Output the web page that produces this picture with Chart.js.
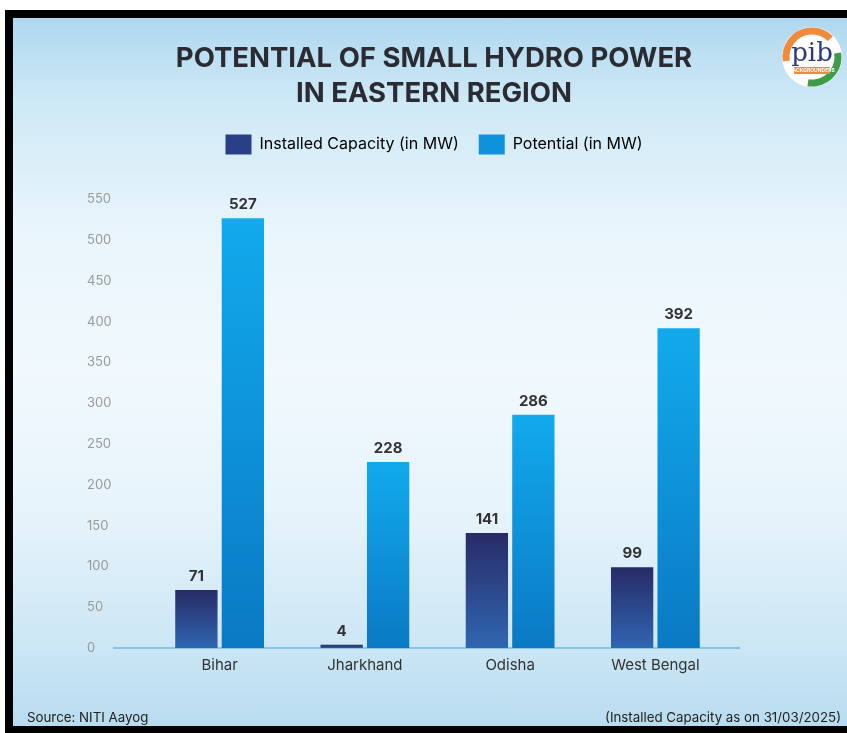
<!DOCTYPE html>
<html>
<head>
<meta charset="utf-8">
<title>Potential of Small Hydro Power in Eastern Region</title>
<script src="https://cdn.jsdelivr.net/npm/chart.js@4.4.1/dist/chart.umd.min.js"></script>
<style>
  html, body { margin: 0; padding: 0; background: #fff; width: 847px; height: 733px; overflow: hidden; }
  #frame { position: absolute; left: 5px; top: 10px; width: 860px; height: 723px; background: #000; }
  #panel {
    position: absolute; left: 8px; top: 8px; width: 834px; height: 708px; overflow: hidden;
    background: linear-gradient(180deg, #afd8ef 0%, #cfe9f6 12%, #e9f5fc 30%, #f1f9fd 50%, #e6f3fb 70%, #cde7f5 88%, #b8dcef 100%);
  }
  #wrap { position: absolute; left: 0; top: 0; width: 834px; height: 708px; }
  .foot { position: absolute; top: 691px; font: 13.3px Inter, sans-serif; color: #222; white-space: nowrap; }
</style>
</head>
<body>
<div id="frame">
  <div id="panel">
    <div id="wrap"><canvas id="hydroChart"></canvas></div>
    <div class="foot" style="left:14px">Source: NITI Aayog</div>
    <div class="foot" style="right:6px">(Installed Capacity as on 31/03/2025)</div>
  </div>
</div>
<script>
const categories = ['Bihar', 'Jharkhand', 'Odisha', 'West Bengal'];
const installedCapacity = [71, 4, 141, 99];
const potential = [527, 228, 286, 392];
const yMax = 550;
const yStep = 50;

const FONT = 'Inter, "Open Sans", sans-serif';

// vertical gradient running from each bar's top down to the axis
function barGradient(topColor, bottomColor) {
    return (context) => {
        const chart = context.chart;
        if (!chart.chartArea || context.type !== 'data') return bottomColor;
        const y = chart.scales.y;
        const top = y.getPixelForValue(context.raw);
        const bottom = y.getPixelForValue(0);
        const g = chart.ctx.createLinearGradient(0, top, 0, bottom + 1);
        g.addColorStop(0, topColor);
        g.addColorStop(1, bottomColor);
        return g;
    };
}

const valueLabels = {
    id: 'valueLabels',
    afterDatasetsDraw(chart) {
        const ctx = chart.ctx;
        ctx.save();
        ctx.font = 'bold 15px ' + FONT;
        ctx.fillStyle = '#333333';
        ctx.textAlign = 'center';
        ctx.textBaseline = 'bottom';
        chart.data.datasets.forEach((ds, i) => {
            chart.getDatasetMeta(i).data.forEach((bar, j) => {
                ctx.fillText(ds.data[j], bar.x, bar.y - 6);
            });
        });
        ctx.restore();
    }
};

const baseLine = {
    id: 'baseLine',
    beforeDatasetsDraw(chart) {
        const { ctx, chartArea } = chart;
        const y = chart.scales.y.getPixelForValue(0);
        ctx.save();
        ctx.strokeStyle = '#76b4de';
        ctx.lineWidth = 1.5;
        ctx.beginPath();
        ctx.moveTo(chartArea.left - 34, y);
        ctx.lineTo(chartArea.right + 12, y);
        ctx.stroke();
        ctx.restore();
    }
};

// extra room under the legend
const legendSpace = {
    id: 'legendSpace',
    beforeInit(chart) {
        const fit = chart.legend.fit;
        chart.legend.fit = function () {
            fit.bind(chart.legend)();
            this.height += 35;
        };
    }
};

const logo = {
    id: 'logo',
    afterDraw(chart) {
        const ctx = chart.ctx;
        const cx = 799, cy = 39, r = 30;
        ctx.save();
        ctx.fillStyle = '#ffffff';
        ctx.beginPath(); ctx.arc(cx, cy, r, 0, Math.PI * 2); ctx.fill();
        ctx.lineWidth = 7;
        ctx.strokeStyle = '#f08a3c';
        ctx.beginPath(); ctx.arc(cx, cy, r - 4, Math.PI * 0.95, Math.PI * 1.75); ctx.stroke();
        ctx.strokeStyle = '#3f9a4a';
        ctx.beginPath(); ctx.arc(cx, cy, r - 4, Math.PI * 1.95, Math.PI * 0.55); ctx.stroke();
        ctx.fillStyle = '#2a3a7a';
        ctx.font = '26px "DejaVu Serif", serif';
        ctx.textAlign = 'center';
        ctx.textBaseline = 'middle';
        ctx.fillText('pib', cx, cy - 3);
        ctx.fillStyle = '#f08a3c';
        ctx.fillRect(cx - 18, cy + 10, 36, 7);
        ctx.fillStyle = '#ffffff';
        ctx.font = 'bold 5px ' + FONT;
        ctx.fillText('BACKGROUNDERS', cx, cy + 13.5);
        ctx.restore();
    }
};

const ctx = document.getElementById('hydroChart').getContext('2d');

new Chart(ctx, {
    type: 'bar',
    data: {
        labels: categories,
        datasets: [{
            label: 'Installed Capacity (in MW)',
            data: installedCapacity,
            backgroundColor: barGradient('#282b66', '#3066b2'),
            borderWidth: 0,
            barPercentage: 0.91,
            categoryPercentage: 0.64
        }, {
            label: 'Potential (in MW)',
            data: potential,
            backgroundColor: barGradient('#12aaec', '#0a79c4'),
            borderWidth: 0,
            barPercentage: 0.91,
            categoryPercentage: 0.64
        }]
    },
    plugins: [valueLabels, baseLine, legendSpace, logo],
    options: {
        responsive: true,
        maintainAspectRatio: false,
        animation: false,
        layout: {
            padding: { left: 74, right: 66, top: 23, bottom: 44 }
        },
        plugins: {
            title: {
                display: true,
                text: ['POTENTIAL OF SMALL HYDRO POWER', 'IN EASTERN REGION'],
                color: '#2a2b33',
                font: { family: FONT, size: 27.5, weight: 'bold', lineHeight: 1.28 },
                padding: { top: 0, bottom: 3 }
            },
            legend: {
                display: true,
                labels: {
                    boxWidth: 26,
                    boxHeight: 20,
                    padding: 20,
                    color: '#333333',
                    font: { family: FONT, size: 16 },
                    generateLabels: (chart) => [
                        { text: 'Installed Capacity (in MW)', fillStyle: '#2b3f86', strokeStyle: '#2b3f86', lineWidth: 0, datasetIndex: 0 },
                        { text: 'Potential (in MW)', fillStyle: '#0c93dc', strokeStyle: '#0c93dc', lineWidth: 0, datasetIndex: 1 }
                    ]
                }
            },
            tooltip: { enabled: false }
        },
        scales: {
            x: {
                grid: { display: false, drawTicks: false },
                border: { display: false },
                ticks: {
                    color: '#333333',
                    padding: 8,
                    font: { family: FONT, size: 15 }
                }
            },
            y: {
                min: 0,
                max: yMax,
                grid: { display: false, drawTicks: false },
                border: { display: false },
                afterFit: (scale) => { scale.width = 60; },
                ticks: {
                    stepSize: yStep,
                    crossAlign: 'far',
                    color: '#9a9a9a',
                    font: { family: FONT, size: 13 }
                }
            },
            // empty right-hand axis, only reserves space so title and legend sit centred
            yRight: {
                position: 'right',
                min: 0,
                max: yMax,
                grid: { display: false, drawTicks: false },
                border: { display: false },
                ticks: { display: false },
                afterFit: (scale) => { scale.width = 53; }
            }
        }
    }
});
</script>
</body>
</html>
